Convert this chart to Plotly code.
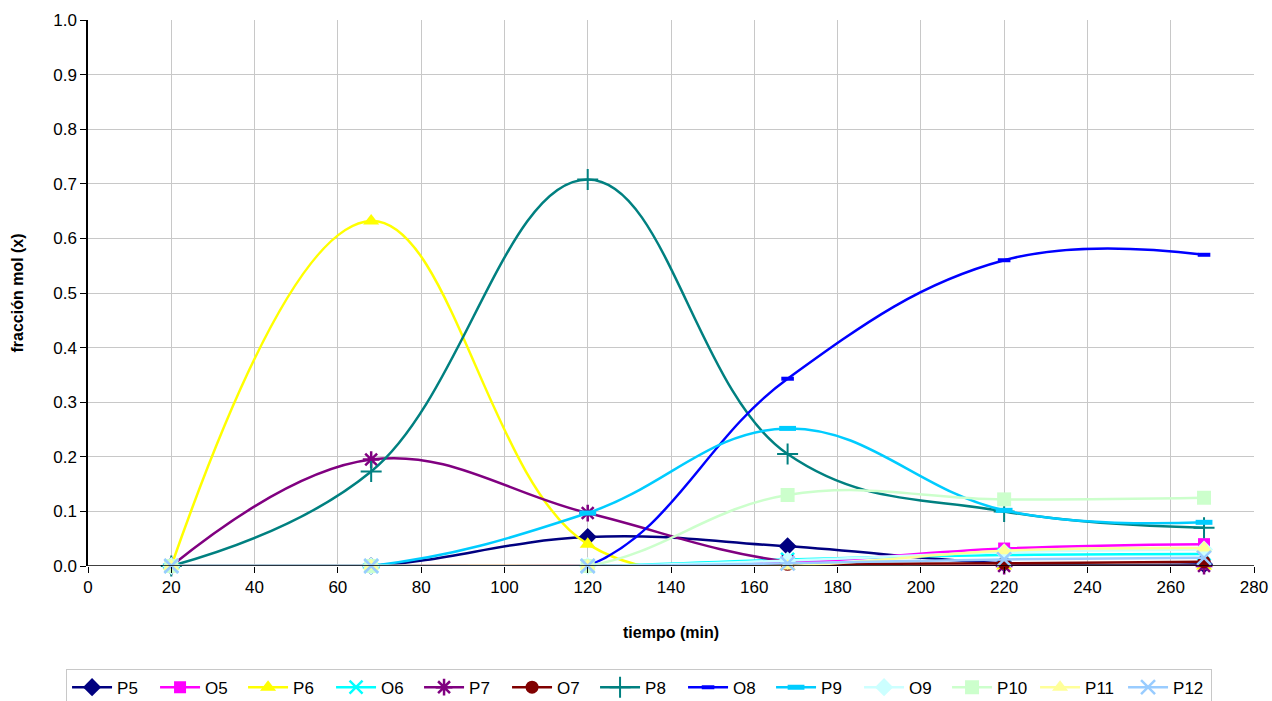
import plotly.graph_objects as go

# Sampling times (min)
tiempo = [20, 68, 120, 168, 220, 268]

# Mole fractions per species
P5 = [0, 0, 0.053, 0.036, 0.005, 0.003]
O5 = [0, 0, 0, 0.006, 0.032, 0.040]
P6 = [0, 0.632, 0.040, 0, 0, 0]
O6 = [0, 0, 0, 0.012, 0.020, 0.022]
P7 = [0, 0.195, 0.097, 0.008, 0, 0]
O7 = [0, 0, 0, 0.003, 0.005, 0.008]
P8 = [0, 0.173, 0.708, 0.205, 0.100, 0.070]
O8 = [0, 0, 0, 0.343, 0.560, 0.570]
P9 = [0, 0, 0.097, 0.252, 0.102, 0.080]
O9 = [0, 0, 0, 0.010, 0.025, 0.030]
P10 = [0, 0, 0, 0.130, 0.122, 0.125]
P11 = [0, 0, 0, 0, 0.028, 0.033]
P12 = [0, 0, 0, 0.005, 0.012, 0.015]

xticks = list(range(0, 281, 20))
yticks = [round(i * 0.1, 1) for i in range(11)]

series = [
    ("P5", P5, "#000080", dict(symbol="diamond", size=14)),
    ("O5", O5, "#FF00FF", dict(symbol="square", size=12)),
    ("P6", P6, "#FFFF00", dict(symbol="triangle-up", size=14)),
    ("O6", O6, "#00FFFF", dict(symbol="x-thin", size=13, line=dict(width=2.5, color="#00FFFF"))),
    ("P7", P7, "#800080", dict(symbol="asterisk", size=14, line=dict(width=2.5, color="#800080"))),
    ("O7", O7, "#800000", dict(symbol="circle", size=13)),
    ("P8", P8, "#008080", dict(symbol="cross-thin", size=15, line=dict(width=2, color="#008080"))),
    ("O8", O8, "#0000FF", dict(symbol="line-ew", size=9, line=dict(width=4, color="#0000FF"))),
    ("P9", P9, "#00CCFF", dict(symbol="line-ew", size=12, line=dict(width=5, color="#00CCFF"))),
    ("O9", O9, "#CCFFFF", dict(symbol="diamond", size=14)),
    ("P10", P10, "#CCFFCC", dict(symbol="square", size=14)),
    ("P11", P11, "#FFFF99", dict(symbol="triangle-up", size=14)),
    ("P12", P12, "#99CCFF", dict(symbol="x-thin", size=14, line=dict(width=2.5, color="#99CCFF"))),
]

fig = go.Figure()
for name, vals, color, marker in series:
    m = dict(color=color)
    m.update(marker)
    fig.add_trace(go.Scatter(
        x=tiempo, y=vals, name=name, mode="lines+markers",
        line=dict(color=color, width=2.5, shape="spline", smoothing=1.15),
        marker=m, cliponaxis=False,
    ))

fig.update_layout(
    width=1272, height=701,
    margin=dict(l=88, r=18, t=20, b=135, autoexpand=False),
    paper_bgcolor="white", plot_bgcolor="white",
    font=dict(family="Liberation Sans, Arial, sans-serif", size=17, color="black"),
    showlegend=True,
    legend=dict(
        orientation="h", x=0.4726, xanchor="center", xref="paper",
        y=-0.188, yanchor="top", yref="paper",
        bordercolor="#C8C8C8", borderwidth=1, font=dict(size=17),
        itemwidth=40, entrywidth=33, entrywidthmode="pixels", tracegroupgap=0,
    ),
)
fig.update_xaxes(
    range=[0, 280], tickvals=xticks, ticktext=[str(t) for t in xticks],
    showgrid=True, gridcolor="#C8C8C8", gridwidth=1,
    showline=False, zeroline=False, ticks="outside", ticklen=6, tickcolor="black",
    title=dict(text="<b>tiempo (min)</b>", font=dict(size=16), standoff=30),
)
fig.update_yaxes(
    range=[0, 1.0], tickvals=yticks, ticktext=[f"{t:.1f}" for t in yticks],
    showgrid=True, gridcolor="#C8C8C8", gridwidth=1,
    showline=True, linecolor="black", linewidth=1.5,
    zeroline=False, ticks="outside", ticklen=6, tickcolor="black",
    title=dict(text="<b>fracción mol (x)</b>", font=dict(size=16), standoff=26),
)
# Horizontal axis line drawn along y = 0
fig.add_shape(type="line", xref="paper", yref="y", x0=0, x1=1, y0=0, y1=0,
              line=dict(color="black", width=1.5), layer="above")

fig.write_html("out.html")
